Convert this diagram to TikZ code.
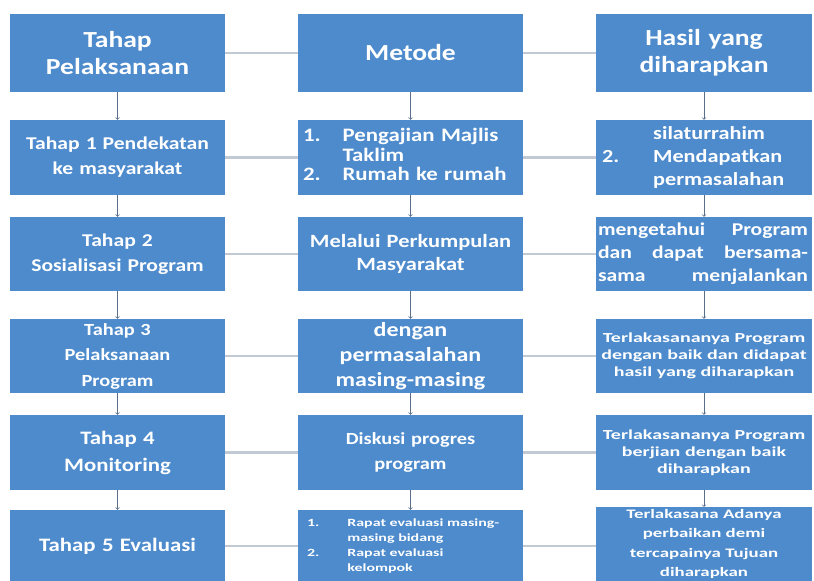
\documentclass[tikz,border=0pt]{standalone}
\usepackage{fontspec}
\setmainfont{Carlito}[FakeStretch=1.2]
\newfontfamily\lebar{Carlito}[FakeStretch=1.45]
\usepackage{tikz}
\definecolor{kotakbiru}{RGB}{77,139,205}
\definecolor{garisabu}{RGB}{192,201,212}
\definecolor{panahabu}{RGB}{90,112,138}

\begin{document}
\begin{tikzpicture}[x=1pt,y=1pt,
    kotak/.style={fill=kotakbiru, text=white, inner sep=2pt, align=center},
    kol1/.style={kotak, minimum width=215, text width=209},
    kol2/.style={kotak, minimum width=225, text width=219},
    kol3/.style={kotak, minimum width=216, text width=212},
    judul/.style={font=\bfseries\fontsize{23}{27}\selectfont},
    kecil/.style={font=\lebar\bfseries\fontsize{13.8}{17}\selectfont},
    hubung/.style={garisabu, line width=2.4pt},
    turun/.style={->, panahabu, line width=0.7pt}]
  \useasboundingbox (0,0) rectangle (814,581);
  \clip (0,0) rectangle (814,581);
  % horizontal links (behind the boxes)
  \foreach \y in {528,423.5,327,225,128.5,35} {
    \draw[hubung] (117,\y) -- (705,\y);
  }
  % column 1
  \node[kol1, judul, minimum height=78] (t1) at (117.5,528) {Tahap\\Pelaksanaan};
  \node[kol1, minimum height=75, font=\bfseries\fontsize{18}{25}\selectfont] (t2) at (117.5,423.5) {Tahap 1 Pendekatan\\ke masyarakat};
  \node[kol1, minimum height=74, font=\bfseries\fontsize{18}{25}\selectfont] (t3) at (117.5,327) {Tahap 2\\Sosialisasi Program};
  \node[kol1, minimum height=74, font=\bfseries\fontsize{17}{25.5}\selectfont] (t4) at (117.5,225) {Tahap 3\\Pelaksanaan\\Program};
  \node[kol1, minimum height=75, font=\bfseries\fontsize{19}{27}\selectfont] (t5) at (117.5,128.5) {Tahap 4\\Monitoring};
  \node[kol1, minimum height=72, font=\bfseries\fontsize{19}{25}\selectfont] (t6) at (117.5,35) {Tahap 5 Evaluasi};
  % column 2
  \node[kol2, judul, minimum height=78] (m1) at (410.5,528) {Metode};
  \node[kol2, minimum height=75, align=left, font=\bfseries\fontsize{19}{19.5}\selectfont] (m2) at (410.5,423.5) {%
    \hspace*{2pt}\begin{tabular}{@{}l@{\hspace{22pt}}l@{}}
      1. & Pengajian Majlis\\
         & Taklim\\
      2. & Rumah ke rumah
    \end{tabular}};
  \node[kol2, minimum height=74, font=\bfseries\fontsize{18.7}{23}\selectfont] (m3) at (410.5,327) {Melalui Perkumpulan\\Masyarakat};
  \node[kol2, minimum height=74, font=\bfseries\fontsize{20}{25}\selectfont] (m4) at (410.5,225) {dengan\\permasalahan\\masing-masing};
  \node[kol2, minimum height=75, font=\bfseries\fontsize{17}{25}\selectfont] (m5) at (410.5,128.5) {Diskusi progres\\program};
  \node[kol2, minimum height=72, align=left, font=\lebar\bfseries\fontsize{11}{15}\selectfont] (m6) at (410.5,35) {%
    \hspace*{6pt}\begin{tabular}{@{}l@{\hspace{28pt}}l@{}}
      1. & Rapat evaluasi masing-\\
         & masing bidang\\
      2. & Rapat evaluasi\\
         & kelompok
    \end{tabular}};
  % column 3
  \node[kol3, judul, minimum height=78] (h1) at (704,528) {Hasil yang\\diharapkan};
  \node[kol3, minimum height=75, align=left, font=\bfseries\fontsize{18.5}{23}\selectfont] (h2) at (704,423.5) {%
    \hspace*{4pt}\begin{tabular}{@{}l@{\hspace{34pt}}l@{}}
         & silaturrahim\\
      2. & Mendapatkan\\
         & permasalahan
    \end{tabular}};
  \node[kol3, minimum height=74, align=left, font=\bfseries\fontsize{18}{23}\selectfont] (h3) at (704,327) {%
    \makebox[210pt][s]{mengetahui\hfill Program}\\
    \makebox[210pt][s]{dan\hfill dapat\hfill bersama-}\\
    \makebox[210pt][s]{sama\hfill menjalankan}};
  \node[kol3, kecil, minimum height=74] (h4) at (704,225) {Terlakasananya Program\\dengan baik dan didapat\\hasil yang diharapkan};
  \node[kol3, kecil, minimum height=75] (h5) at (704,128.5) {Terlakasananya Program\\berjian dengan baik\\diharapkan};
  \node[kol3, minimum height=72, font=\lebar\bfseries\fontsize{13}{19.5}\selectfont] (h6) at (704,37) {Terlakasana Adanya\\perbaikan demi\\tercapainya Tujuan\\diharapkan};
  % arrows down each column
  \foreach \a/\b in {t1/t2,t2/t3,t3/t4,t4/t5,t5/t6,
                     m1/m2,m2/m3,m3/m4,m4/m5,m5/m6,
                     h1/h2,h2/h3,h3/h4,h4/h5,h5/h6} {
    \draw[turun] (\a.south) -- (\b.north);
  }
\end{tikzpicture}
\end{document}
